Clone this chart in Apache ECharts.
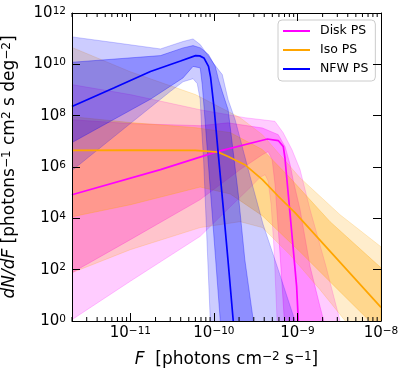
<!DOCTYPE html>
<html>
<head>
<meta charset="utf-8">
<script src="https://cdn.jsdelivr.net/npm/echarts@6/dist/echarts.min.js"></script>
<style>
html, body { margin: 0; padding: 0; background: #fff; }
#chart { width: 407px; height: 374px; }
</style>
</head>
<body>
<div id="chart"></div>
<script>
// curves, pairs of [log10 F, log10 dN/dF]
// Disk PS
var diskMed = [[-11.70,4.92],[-10.64,5.90],[-9.96,6.60],[-9.36,7.09],[-9.23,7.03],[-9.17,6.80],[-9.15,6.36],[-9.13,5.64],[-9.09,4.22],[-9.01,1.35],[-8.99,0.0],[-8.945,-1.5]];
var diskHi68 = [[-11.70,7.84],[-11.0,7.69],[-10.164,7.61],[-9.83,7.72],[-9.42,7.52],[-9.23,7.26],[-9.148,6.79],[-9.088,6.09],[-9.053,5.51],[-8.969,4.34],[-8.849,2.12],[-8.73,0.56],[-8.658,-0.34]];
var diskLo68 = [[-11.70,1.88],[-11.0,3.17],[-10.164,4.73],[-9.686,5.90],[-9.42,6.48],[-9.351,6.60],[-9.303,6.29],[-9.268,5.31],[-9.208,2.59],[-9.16,0.17],[-9.124,-1.3]];
var diskHi95 = [[-11.70,9.21],[-11.0,8.82],[-10.164,8.23],[-9.626,7.92],[-9.42,7.84],[-9.27,7.78],[-9.172,7.34],[-9.065,6.67],[-8.969,5.90],[-8.849,4.34],[-8.658,2.12],[-8.491,0.01],[-8.37,-0.8]];
var diskLo95 = [[-11.70,0.05],[-11.0,1.55],[-10.164,3.30],[-9.805,4.45],[-9.566,5.20],[-9.447,5.60],[-9.387,5.70],[-9.351,5.45],[-9.315,4.53],[-9.28,2.78],[-9.244,0.01],[-9.22,-1.1]];
// Iso PS
var isoMed = [[-11.70,6.65],[-11.0,6.66],[-10.22,6.65],[-9.95,6.58],[-9.83,6.41],[-9.63,6.09],[-9.42,5.51],[-9.23,4.86],[-9.03,4.22],[-8.53,2.43],[-8.0,0.53]];
var isoHi68 = [[-11.70,7.96],[-11.0,7.73],[-10.22,7.53],[-9.805,7.34],[-9.42,6.68],[-9.09,5.58],[-8.61,3.87],[-8.0,2.07]];
var isoLo68 = [[-11.70,4.06],[-11.0,4.53],[-10.164,5.22],[-9.805,4.95],[-9.42,4.10],[-8.97,2.70],[-8.49,1.14],[-8.13,-0.02],[-8.0,-0.45]];
var isoHi95 = [[-11.70,10.66],[-11.0,9.71],[-10.22,8.82],[-9.686,7.92],[-9.42,7.26],[-8.97,5.58],[-8.49,4.14],[-8.0,2.89]];
var isoLo95 = [[-11.70,1.88],[-11.0,2.78],[-10.164,3.64],[-9.686,3.87],[-9.42,3.64],[-9.09,2.58],[-8.73,1.22],[-8.43,0.01],[-8.0,-1.5]];
// NFW PS
var nfwMed = [[-11.70,8.36],[-11.20,9.08],[-10.76,9.72],[-10.40,10.13],[-10.22,10.34],[-10.17,10.33],[-10.12,10.25],[-10.065,9.92],[-10.04,9.50],[-9.996,8.23],[-9.945,6.40],[-9.885,4.30],[-9.83,2.31],[-9.77,0.05],[-9.70,-2.4]];
var nfwHi68 = [[-11.70,10.08],[-10.64,10.34],[-10.37,10.64],[-10.25,10.73],[-10.16,10.64],[-10.065,10.38],[-9.984,9.92],[-9.945,9.40],[-9.90,8.93],[-9.83,8.23],[-9.71,4.99],[-9.63,2.39],[-9.53,0.05],[-9.42,-3.0]];
var nfwLo68 = [[-11.70,6.95],[-10.76,8.64],[-10.37,9.47],[-10.25,9.92],[-10.164,9.86],[-10.14,9.21],[-10.116,8.23],[-10.02,4.14],[-9.925,0.05],[-9.85,-2.5]];
var nfwHi95 = [[-11.70,11.07],[-11.20,10.85],[-10.64,10.60],[-10.37,10.89],[-10.25,10.99],[-10.164,10.77],[-10.01,10.06],[-9.90,9.60],[-9.83,8.62],[-9.746,7.84],[-9.566,5.62],[-9.41,3.75],[-9.23,2.00],[-9.03,0.01],[-8.85,-1.8]];
var nfwLo95 = [[-11.70,5.86],[-11.12,7.38],[-10.52,8.95],[-10.37,9.32],[-10.25,9.44],[-10.20,9.25],[-10.164,8.62],[-10.146,7.45],[-10.124,6.29],[-10.044,0.05],[-10.0,-1.5]];

var names = ['Disk PS', 'Iso PS', 'NFW PS'];
var colors = ['#ff00ff', '#ffa500', '#0000ff'];
var rgb = ['255,0,255', '255,165,0', '0,0,255'];

var font = 'DejaVu Sans';

function toLin(pts) {
  return pts.map(function (p) { return [Math.pow(10, p[0]), Math.pow(10, p[1])]; });
}

// shaded band between two curves
function band(upper, lower, c, alpha) {
  var pts = toLin(upper).concat(toLin(lower).reverse());
  var col = 'rgba(' + c + ',' + alpha + ')';
  return {
    type: 'custom',
    silent: true,
    clip: true,
    z: 1,
    data: [[1e-10, 1e6]],
    renderItem: function (params, api) {
      return {
        type: 'polygon',
        shape: { points: pts.map(function (p) { return api.coord(p); }) },
        style: { fill: col, stroke: col, lineWidth: 1, lineJoin: 'round' }
      };
    }
  };
}

function medLine(i, pts) {
  return {
    type: 'line',
    name: names[i],
    data: toLin(pts),
    showSymbol: false,
    symbol: 'none',
    silent: true,
    z: 3,
    lineStyle: { color: colors[i], width: 1.7 },
    itemStyle: { color: colors[i] }
  };
}

// matplotlib style minor ticks on the log x axis
var minorF = [];
for (var n = -12; n <= -9; n++) {
  for (var k = 2; k <= 9; k++) {
    var f = k * Math.pow(10, n);
    if (f >= 2e-12 && f < 1e-8) minorF.push([f, 1]);
  }
}

function powLabel(v) {
  var e = Math.log10(v), r = Math.round(e);
  if (Math.abs(e - r) > 1e-3) return '';
  return '{b|10}{s|' + String(r).replace('-', '\u2212') + '}';
}

var tickRich = {
  b: { fontFamily: font, fontSize: 15, lineHeight: 15, verticalAlign: 'bottom', color: '#000' },
  s: { fontFamily: font, fontSize: 10.5, lineHeight: 11, verticalAlign: 'top', padding: [0, 0, 9, 0], color: '#000' }
};
var nameRich = {
  r: { fontFamily: font, fontSize: 17, lineHeight: 17, verticalAlign: 'bottom', color: '#000' },
  i: { fontFamily: font, fontSize: 17, lineHeight: 17, verticalAlign: 'bottom', fontStyle: 'italic', color: '#000' },
  s: { fontFamily: font, fontSize: 12, lineHeight: 12, verticalAlign: 'top', padding: [0, 0, 10, 0], color: '#000' }
};

var axLine = { show: true, onZero: false, lineStyle: { color: '#000', width: 1 } };
var axTick = { show: true, inside: true, length: 8, lineStyle: { color: '#000', width: 1 } };

var xBase = { type: 'log', logBase: 10, min: 2e-12, max: 1e-8, z: 10,
  splitLine: { show: false }, axisLine: axLine, axisTick: axTick };
var yBase = { type: 'log', logBase: 10, min: 1, max: 1e12, interval: 2, z: 10,
  splitLine: { show: false }, axisLine: axLine, axisTick: axTick };

var chart = echarts.init(document.getElementById('chart'));
chart.setOption({
  animation: false,
  backgroundColor: '#fff',
  textStyle: { fontFamily: font },
  grid: { left: 72, top: 13, width: 309, height: 308, containLabel: false, outerBoundsMode: 'none' },
  legend: {
    data: names,
    orient: 'vertical',
    left: 278,
    top: 20,
    icon: 'rect',
    itemWidth: 27,
    itemHeight: 2,
    itemGap: 5,
    padding: [4, 7, 5, 5],
    backgroundColor: 'rgba(255,255,255,0.8)',
    borderColor: '#cccccc',
    borderWidth: 1,
    borderRadius: 4,
    textStyle: { fontFamily: font, fontSize: 12.5, lineHeight: 14, color: '#000', padding: [0, 0, 0, 5] }
  },
  xAxis: [
    Object.assign({}, xBase, {
      position: 'bottom',
      axisLabel: { margin: 5, interval: 0, showMinLabel: true, showMaxLabel: true, formatter: powLabel, rich: tickRich },
      name: '{i|F}{r|  [photons cm}{s|\u22122}{r| s}{s|\u22121}{r|]}',
      nameLocation: 'middle',
      nameGap: 22,
      nameTextStyle: { rich: nameRich }
    }),
    Object.assign({}, xBase, { position: 'top', axisLabel: { show: false } })
  ],
  yAxis: [
    Object.assign({}, yBase, {
      position: 'left',
      axisLabel: { margin: 6, interval: 0, showMinLabel: true, showMaxLabel: true, formatter: powLabel, rich: tickRich },
      name: '{i|dN/dF}{r| [photons}{s|\u22121}{r| cm}{s|2}{r| s deg}{s|\u22122}{r|]}',
      nameLocation: 'middle',
      nameRotate: 90,
      nameGap: 44,
      nameTextStyle: { rich: nameRich }
    }),
    Object.assign({}, yBase, { position: 'right', axisLabel: { show: false } })
  ],
  series: [
    band(diskHi95, diskLo95, rgb[0], 0.2),
    band(diskHi68, diskLo68, rgb[0], 0.3),
    band(isoHi95, isoLo95, rgb[1], 0.2),
    band(isoHi68, isoLo68, rgb[1], 0.3),
    band(nfwHi95, nfwLo95, rgb[2], 0.2),
    band(nfwHi68, nfwLo68, rgb[2], 0.3),
    medLine(0, diskMed),
    medLine(1, isoMed),
    medLine(2, nfwMed),
    {
      type: 'custom',
      silent: true,
      z: 5,
      data: minorF,
      renderItem: function (params, api) {
        var f = api.value(0);
        var b = api.coord([f, 1]);
        var t = api.coord([f, 1e12]);
        var st = { stroke: '#000', lineWidth: 1 };
        return {
          type: 'group',
          children: [
            { type: 'line', shape: { x1: b[0], y1: b[1], x2: b[0], y2: b[1] - 4 }, style: st },
            { type: 'line', shape: { x1: t[0], y1: t[1], x2: t[0], y2: t[1] + 4 }, style: st }
          ]
        };
      }
    }
  ]
});
</script>
</body>
</html>
